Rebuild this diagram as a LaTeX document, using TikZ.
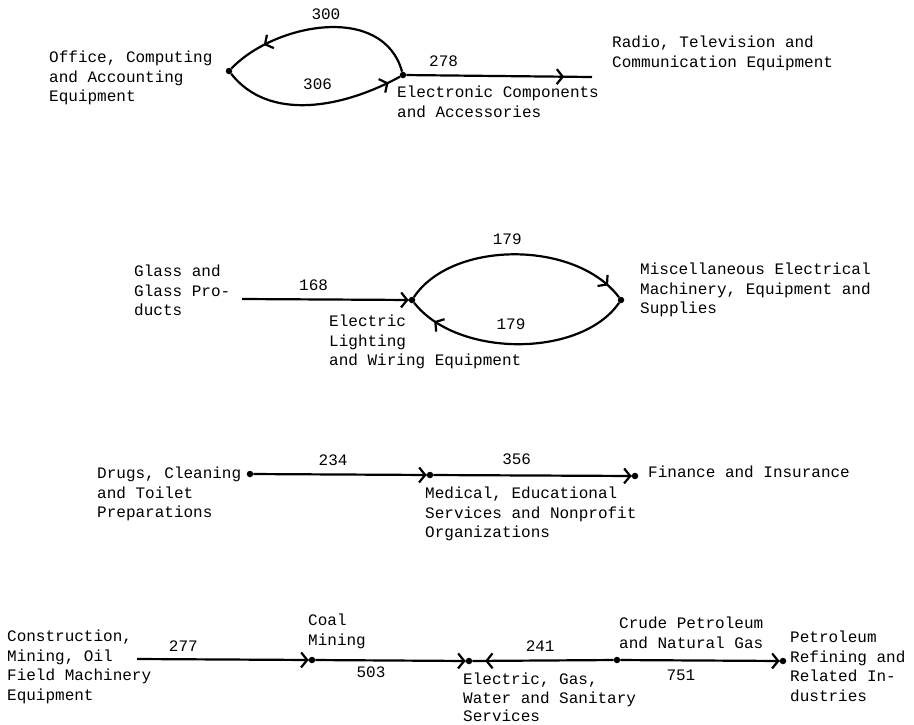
\documentclass[tikz,border=0pt]{standalone}
\usepackage{fontspec}
\setmainfont{Liberation Mono}
\usetikzlibrary{arrows.meta, decorations.markings}

\begin{document}
\begin{tikzpicture}[
    x=1pt, y=1pt,
    every node/.style={font=\fontsize{16}{19.5}\selectfont},
    dot/.style={circle, fill, inner sep=0pt, minimum size=6.5pt},
    industry/.style={anchor=north west, align=left, inner sep=0pt},
    amount/.style={inner sep=0pt},
    flow/.style={line width=2.2pt},
    arrowat/.style={postaction={decorate}, decoration={markings,
        mark=at position #1 with {\arrow{Straight Barb[length=6pt,width=15pt]}}}}
]
    \useasboundingbox (0,0) rectangle (914,-724);

    % electronics loop
    \node[dot] (office) at (229,-71) {};
    \node[dot] (elec) at (403,-75) {};
    \coordinate (radioend) at (592,-77);
    \node[industry] (officetxt) at (49,-51) {Office, Computing\\and Accounting\\Equipment};
    \node[industry] (electxt) at (397,-86) {Electronic Components\\and Accessories};
    \node[industry] (radiotxt) at (612,-36) {Radio, Television and\\Communication Equipment};

    \draw[flow, arrowat=0.8] (elec) .. controls (383,-3) and (275,-23) .. node[amount, above=6.5pt, pos=0.5] (l300) {300} (office);
    \draw[flow, arrowat=0.93] (office) .. controls (269,-122) and (343,-108) .. node[amount, above=13.5pt, pos=0.55] (l306) {306} (elec);
    \draw[flow, arrowat=0.85] (elec) -- node[amount, above=7.5pt, pos=0.2] (l278) {278} (radioend);

    % lighting loop
    \coordinate (glassend) at (242,-299);
    \node[dot] (light) at (412,-300) {};
    \node[dot] (misc) at (621,-300) {};
    \node[industry] (glasstxt) at (134,-265) {Glass and\\Glass Pro-\\ducts};
    \node[industry] (lighttxt) at (329,-315) {Electric\\Lighting\\and Wiring Equipment};
    \node[industry] (misctxt) at (640,-263) {Miscellaneous Electrical\\Machinery, Equipment and\\Supplies};

    \draw[flow, arrowat=1] (glassend) -- node[amount, above=7.5pt, pos=0.43] (l168) {168} (light);
    \draw[flow, arrowat=0.93] (light) .. controls (452,-240) and (576,-240) .. node[amount, above=8.5pt, pos=0.47] (l179a) {179} (misc);
    \draw[flow, arrowat=0.88] (misc) .. controls (581,-358) and (457,-358) .. node[amount, above=13.5pt, pos=0.53] (l179b) {179} (light);

    % services chain
    \node[dot] (drugs) at (250,-474) {};
    \node[dot] (medical) at (430,-475) {};
    \node[dot] (finance) at (635,-476) {};
    \node[industry] (drugstxt) at (97,-467) {Drugs, Cleaning\\and Toilet\\Preparations};
    \node[industry] (medicaltxt) at (425,-487) {Medical, Educational\\Services and Nonprofit\\Organizations};
    \node[industry] (financetxt) at (648,-466) {Finance and Insurance};

    \draw[flow, arrowat=1] (drugs) -- node[amount, above=7.5pt, pos=0.46] (l234) {234} (medical);
    \draw[flow, arrowat=1] (medical) -- node[amount, above=9.5pt, pos=0.42] (l356) {356} (finance);

    % energy chain
    \coordinate (conend) at (137,-659);
    \node[dot] (coal) at (312,-660) {};
    \node[dot] (utility) at (469,-661) {};
    \node[dot] (crude) at (617,-660) {};
    \node[dot] (refining) at (783,-661) {};
    \node[industry] (contxt) at (7,-630) {Construction,\\Mining, Oil\\Field Machinery\\Equipment};
    \node[industry] (coaltxt) at (308,-614) {Coal\\Mining};
    \node[industry, font=\fontsize{16}{18.5}\selectfont] (utilitytxt) at (463,-673) {Electric, Gas,\\Water and Sanitary\\Services};
    \node[industry] (crudetxt) at (619,-617) {Crude Petroleum\\and Natural Gas};
    \node[industry] (refiningtxt) at (790,-631) {Petroleum\\Refining and\\Related In-\\dustries};

    \draw[flow, arrowat=1] (conend) -- node[amount, above=6.5pt, pos=0.27] (l277) {277} (coal);
    \draw[flow, arrowat=1] (coal) -- node[amount, below=5.5pt, pos=0.37] (l503) {503} (utility);
    \draw[flow, arrowat=0.91] (crude) -- node[amount, above=7.5pt, pos=0.52] (l241) {241} (utility);
    \draw[flow, arrowat=1] (crude) -- node[amount, below=8.5pt, pos=0.38] (l751) {751} (refining);
\end{tikzpicture}
\end{document}
